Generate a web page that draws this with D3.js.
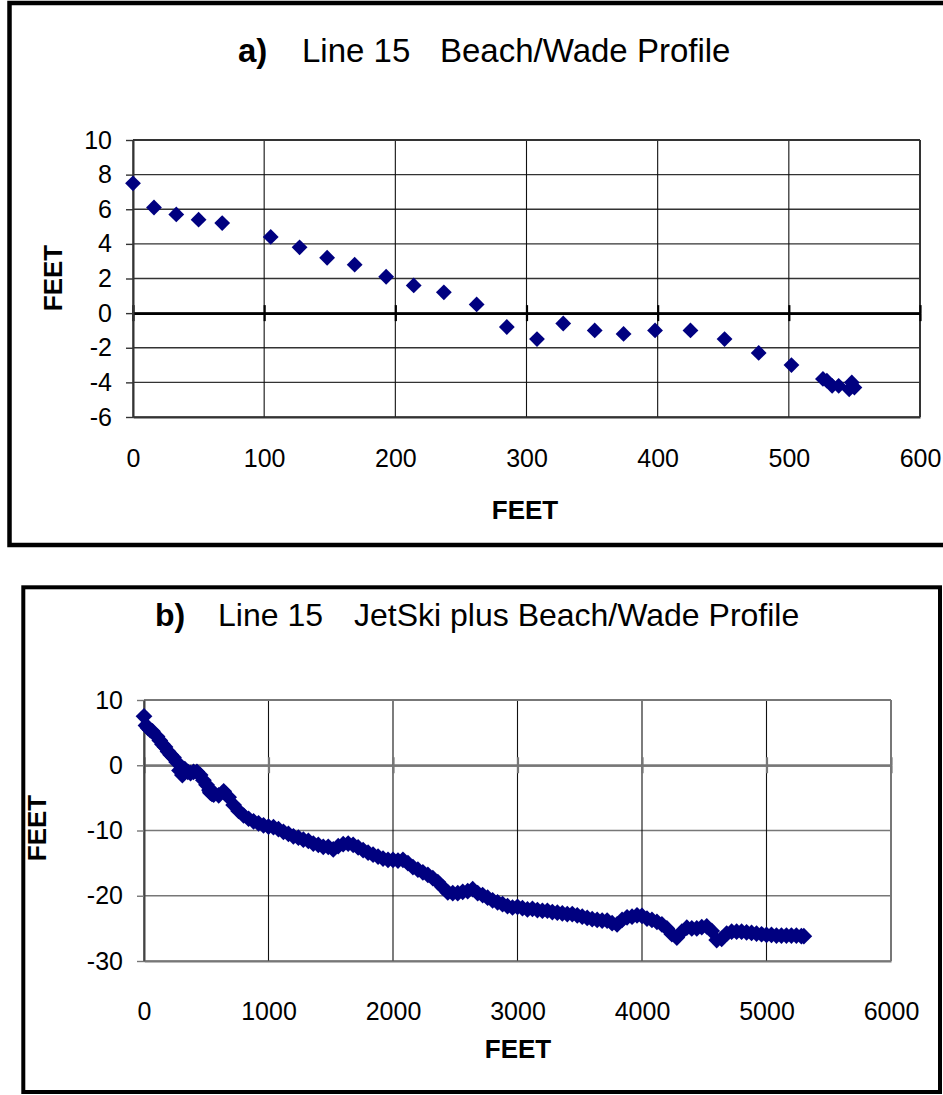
<!DOCTYPE html>
<html>
<head>
<meta charset="utf-8">
<script src="https://d3js.org/d3.v7.min.js"></script>
<style>
body { margin: 0; background: #fff; }
text { font-family: Arial, "Liberation Sans", sans-serif; }
</style>
</head>
<body>
<script>
// beach/wade survey, line 15 (distance ft, elevation ft)
var beachX = [0, 16, 33, 50, 68, 105, 127, 148, 169, 193, 214, 237, 262, 285, 308, 328, 352, 374, 398, 425, 451, 477, 502, 526, 529, 533, 538, 546, 548, 550];
var beachY = [7.5, 6.1, 5.7, 5.4, 5.2, 4.4, 3.8, 3.2, 2.8, 2.1, 1.6, 1.2, 0.5, -0.8, -1.5, -0.6, -1.0, -1.2, -1.0, -1.0, -1.5, -2.3, -3.0, -3.8, -3.9, -4.2, -4.2, -4.4, -4.0, -4.3];

// jetski soundings further offshore
var jetX = [560, 600, 640, 680, 720, 760, 800, 840, 880, 920, 960, 1000, 1040, 1080, 1120, 1160, 1200, 1240, 1280, 1320,
  1360, 1400, 1440, 1480, 1520, 1560, 1600, 1640, 1680, 1720, 1760, 1800, 1840, 1880, 1920, 1960, 2000, 2040, 2080, 2120,
  2160, 2200, 2240, 2280, 2320, 2360, 2400, 2440, 2480, 2520, 2560, 2600, 2640, 2680, 2720, 2760, 2800, 2840, 2880, 2920,
  2960, 3000, 3040, 3080, 3120, 3160, 3200, 3240, 3280, 3320, 3360, 3400, 3440, 3480, 3520, 3560, 3600, 3640, 3680, 3720,
  3760, 3800, 3840, 3880, 3920, 3960, 4000, 4040, 4080, 4120, 4160, 4200, 4240, 4280, 4320, 4360, 4400, 4440, 4480, 4520,
  4560, 4600, 4640, 4680, 4720, 4760, 4800, 4840, 4880, 4920, 4960, 5000, 5040, 5080, 5120, 5160, 5200, 5240, 5280, 5300];
var jetY = [-4.5, -4.6, -4.0, -4.9, -6.1, -7.0, -7.7, -8.2, -8.6, -8.9, -9.2, -9.4, -9.5, -9.8, -10.2, -10.5, -10.9, -11.1, -11.4, -11.6,
  -12.0, -12.2, -12.5, -12.5, -12.9, -12.4, -12.1, -12.0, -12.2, -12.6, -13.0, -13.4, -13.7, -14.0, -14.3, -14.5, -14.5, -14.6, -14.5, -15.0,
  -15.6, -16.0, -16.4, -16.8, -17.3, -17.9, -18.7, -19.5, -19.6, -19.6, -19.4, -19.3, -19.0, -19.6, -19.9, -20.3, -20.7, -21.0, -21.3, -21.6,
  -21.8, -21.7, -21.9, -22.1, -22.0, -22.2, -22.3, -22.3, -22.5, -22.6, -22.7, -22.8, -22.8, -23.0, -23.2, -23.4, -23.6, -23.7, -23.8, -23.8,
  -24.2, -24.4, -23.7, -23.3, -23.2, -23.0, -23.1, -23.5, -23.7, -24.0, -24.4, -25.0, -25.9, -26.4, -25.5, -24.9, -25.0, -25.0, -24.8, -24.7,
  -25.4, -26.8, -26.6, -25.8, -25.5, -25.5, -25.5, -25.6, -25.7, -25.8, -25.9, -26.0, -26.0, -26.1, -26.1, -26.1, -26.1, -26.1, -26.2, -26.2];

var aXTicks = [0, 100, 200, 300, 400, 500, 600];
var aYTicks = [-6, -4, -2, 0, 2, 4, 6, 8, 10];
var bXTicks = [0, 1000, 2000, 3000, 4000, 5000, 6000];
var bYTicks = [-30, -20, -10, 0, 10];

var w = 943, h = 1095;
var navy = "#000080";

var svg = d3.select("body").append("svg")
  .attr("width", w)
  .attr("height", h);

// outer frames
svg.append("rect").attr("x", 9.5).attr("y", 3).attr("width", 960).attr("height", 542)
  .attr("fill", "none").attr("stroke", "#000").attr("stroke-width", 4.5);
svg.append("rect").attr("x", 23.3).attr("y", 587.3).attr("width", 916.7).attr("height", 504.7)
  .attr("fill", "none").attr("stroke", "#000").attr("stroke-width", 4);

function panel(o) {
  var g = svg.append("g");
  var x = d3.scaleLinear().domain(o.xDom).range(o.xRange);
  var y = d3.scaleLinear().domain(o.yDom).range(o.yRange);

  // horizontal grid
  g.selectAll(".hg").data(o.yTicks).enter().append("line")
    .attr("x1", x(o.xDom[0])).attr("x2", x(o.xDom[1]))
    .attr("y1", function(d){ return y(d); }).attr("y2", function(d){ return y(d); })
    .attr("stroke", o.hGrid).attr("stroke-width", 1.4);
  // vertical grid
  g.selectAll(".vg").data(o.xTicks).enter().append("line")
    .attr("x1", function(d){ return x(d); }).attr("x2", function(d){ return x(d); })
    .attr("y1", y(o.yDom[0])).attr("y2", y(o.yDom[1]))
    .attr("stroke", function(d, i){ return i == o.xTicks.length - 1 ? o.hGrid : "#111"; })
    .attr("stroke-width", function(d, i){ return i == o.xTicks.length - 1 ? 2 : 1.1; });
  // top border
  g.append("line").attr("x1", x(o.xDom[0])).attr("x2", x(o.xDom[1]))
    .attr("y1", y(o.yDom[1])).attr("y2", y(o.yDom[1]))
    .attr("stroke", o.hGrid).attr("stroke-width", 2);

  // x axis crossing at zero, ticks through it
  var zeroDown = g.append("g").attr("transform", "translate(0," + y(0) + ")")
    .call(d3.axisBottom(x).tickValues(o.xTicks).tickSize(8).tickSizeOuter(0).tickFormat(""));
  var zeroUp = g.append("g").attr("transform", "translate(0," + y(0) + ")")
    .call(d3.axisTop(x).tickValues(o.xTicks).tickSize(8).tickSizeOuter(0).tickFormat(""));
  [zeroDown, zeroUp].forEach(function(a){
    a.select(".domain").attr("stroke", o.zeroCol).attr("stroke-width", o.zeroW);
    a.selectAll(".tick line").attr("stroke", o.zeroCol).attr("stroke-width", 2.2);
  });

  // y axis
  var ya = g.append("g").attr("transform", "translate(" + x(o.xDom[0]) + ",0)")
    .call(d3.axisLeft(y).tickValues(o.yTicks).tickSize(7).tickSizeOuter(0).tickPadding(14)
      .tickFormat(function(d){ return String(d); }));
  ya.select(".domain").attr("stroke", o.leftCol).attr("stroke-width", 2);
  ya.selectAll(".tick line").attr("stroke", o.hGrid).attr("stroke-width", 1.4);
  ya.selectAll("text").attr("font-size", 25).attr("fill", "#000")
    .style("font-family", "Arial, 'Liberation Sans', sans-serif");

  // x tick labels at the bottom of the plot
  var xa = g.append("g").attr("transform", "translate(0," + y(o.yDom[0]) + ")")
    .call(d3.axisBottom(x).tickValues(o.xTicks).tickSize(0).tickPadding(o.xPad)
      .tickFormat(function(d){ return String(d); }));
  xa.select(".domain").attr("stroke", o.hGrid).attr("stroke-width", 2);
  xa.selectAll("text").attr("font-size", 25).attr("fill", "#000")
    .style("font-family", "Arial, 'Liberation Sans', sans-serif");

  // points
  var sym = d3.symbol().type(d3.symbolSquare).size(o.mSize);
  g.selectAll(".pt").data(o.data).enter().append("path")
    .attr("d", sym)
    .attr("transform", function(d){ return "translate(" + x(d[0]) + "," + y(d[1]) + ") rotate(45)"; })
    .attr("fill", navy);

  // axis titles
  g.append("text").attr("x", o.xTitle[0]).attr("y", o.xTitle[1])
    .attr("text-anchor", "middle").attr("font-size", 26).attr("font-weight", "bold").text("FEET");
  g.append("text").attr("transform", "translate(" + o.yTitle[0] + "," + o.yTitle[1] + ") rotate(-90)")
    .attr("text-anchor", "middle").attr("dy", "0.36em")
    .attr("font-size", 26).attr("font-weight", "bold").text("FEET");
}

panel({
  xDom: [0, 600], xRange: [133, 920],
  yDom: [-6, 10], yRange: [417, 140],
  xTicks: aXTicks, yTicks: aYTicks,
  hGrid: "#333", zeroCol: "#000", zeroW: 2.5, leftCol: "#333",
  xPad: 32, mSize: 125,
  data: d3.zip(beachX, beachY),
  xTitle: [525, 519], yTitle: [53, 278]
});

panel({
  xDom: [0, 6000], xRange: [144, 891],
  yDom: [-30, 10], yRange: [961, 700],
  xTicks: bXTicks, yTicks: bYTicks,
  hGrid: "#777", zeroCol: "#777", zeroW: 2, leftCol: "#444",
  xPad: 41, mSize: 140,
  data: d3.zip(beachX, beachY).concat(d3.zip(jetX, jetY)),
  xTitle: [518, 1058], yTitle: [37, 828]
});

// chart titles
svg.append("text").attr("x", 238).attr("y", 62).attr("font-size", 33).attr("font-weight", "bold").text("a)");
svg.append("text").attr("x", 302).attr("y", 62).attr("font-size", 33).text("Line 15");
svg.append("text").attr("x", 440).attr("y", 62).attr("font-size", 33).text("Beach/Wade Profile");

svg.append("text").attr("x", 155).attr("y", 626).attr("font-size", 32).attr("font-weight", "bold").text("b)");
svg.append("text").attr("x", 218).attr("y", 626).attr("font-size", 32).text("Line 15");
svg.append("text").attr("x", 354).attr("y", 626).attr("font-size", 32).text("JetSki plus Beach/Wade Profile");
</script>
</body>
</html>
